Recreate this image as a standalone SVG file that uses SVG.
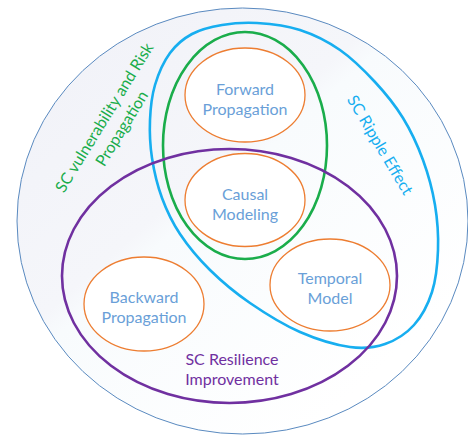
<svg xmlns="http://www.w3.org/2000/svg" width="468" height="436" viewBox="0 0 468 436">
  <defs>
    <linearGradient id="bg" x1="0" y1="0.1" x2="0.75" y2="0.9">
      <stop offset="0" stop-color="#f1f2f8"/>
      <stop offset="0.45" stop-color="#f5f6fa"/>
      <stop offset="0.5" stop-color="#f8fbfd"/>
      <stop offset="1" stop-color="#ffffff"/>
    </linearGradient>
  </defs>
  <style>
    .sub { fill: #ffffff; stroke: #ed7d31; stroke-width: 1.3; }
    .big { fill: none; stroke-width: 2.6; }
    .t { font-family: Lato, "Open Sans", sans-serif; font-size: 16px; text-anchor: middle; }
    .st { fill: #6a9fd8; }
  </style>
  <rect width="468" height="436" fill="#ffffff"/>
  <g id="outer">
    <ellipse cx="242.5" cy="221" rx="225.5" ry="213" fill="url(#bg)" stroke="#5a8ac0" stroke-width="1"/>
  </g>
  <g id="forward">
    <ellipse class="sub" cx="245" cy="95" rx="60" ry="47"/>
    <text class="t st" x="245" y="95">Forward</text>
    <text class="t st" x="245" y="115">Propagation</text>
  </g>
  <g id="causal">
    <ellipse class="sub" cx="245" cy="200" rx="60" ry="46.5"/>
    <text class="t st" x="245" y="200">Causal</text>
    <text class="t st" x="245" y="220">Modeling</text>
  </g>
  <g id="temporal">
    <ellipse class="sub" cx="330" cy="285" rx="60" ry="46"/>
    <text class="t st" x="330" y="284">Temporal</text>
    <text class="t st" x="330" y="304">Model</text>
  </g>
  <g id="backward">
    <ellipse class="sub" cx="144" cy="304" rx="60" ry="47"/>
    <text class="t st" x="144" y="303">Backward</text>
    <text class="t st" x="144" y="323">Propagation</text>
  </g>
  <g id="vulnerability">
    <ellipse class="big" cx="245" cy="145.5" rx="82" ry="113.5" stroke="#1aad4b"/>
    <g transform="translate(113,123) rotate(-58.4)">
      <text class="t" x="0" y="-4.8" fill="#1aad4b">SC vulnerability and Risk</text>
      <text class="t" x="0" y="15.8" fill="#1aad4b">Propagation</text>
    </g>
  </g>
  <g id="ripple">
    <path class="big" stroke="#17aef0" d="M257,23 C270,23.8 286.2,25.5 300,30 S327.5,41.3 340,50 S364.5,70.7 375,82 S395,105 403,118 S417.7,145.5 423,160 S432.5,190 435,205 S438.5,235.5 438,250 S436,279.5 432,292 S421.8,316.3 414,325 S395.7,340.3 385,344 S364.2,349 350,347 S316.7,339.3 300,332 S265,313.3 250,303 S221.7,281.5 210,270 S188,246 180,234 S166.7,210.7 162,198 S154,171 152,158 S149.5,132.2 150,120 S151.7,96.2 155,85 S163.8,61.5 170,53 S183.3,38.7 192,34 S211.2,26.8 222,25 S244,22.2 257,23 Z"/>
    <g transform="translate(380,145) rotate(59.2)">
      <text class="t" x="0" y="5.5" fill="#17aef0">SC Ripple Effect</text>
    </g>
  </g>
  <g id="resilience">
    <ellipse class="big" cx="229.5" cy="276" rx="167.5" ry="127" stroke="#7030a0"/>
    <text class="t" x="232" y="365" fill="#7030a0">SC Resilience</text>
    <text class="t" x="232" y="385" fill="#7030a0">Improvement</text>
  </g>
</svg>
